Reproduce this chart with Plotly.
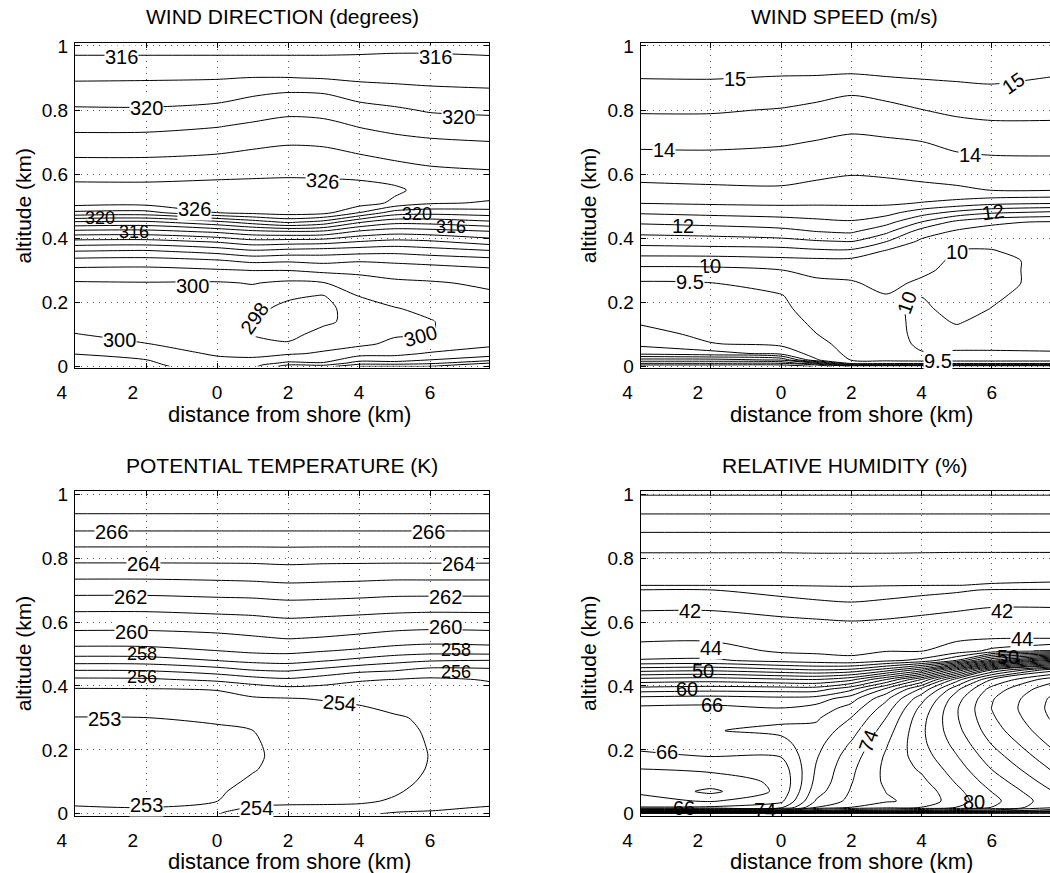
import numpy as np
import plotly.graph_objects as go

# ---------------- data ----------------
X_KM = [-4, -2, 0, 1, 2, 3, 4, 5, 6, 7.66]

# altitude rows, listed top -> bottom
ALT_DESC = [1.0, 0.95, 0.90, 0.85, 0.80, 0.75, 0.70, 0.65, 0.60, 0.55, 0.51, 0.48, 0.45, 0.42,
            0.39, 0.36, 0.33, 0.30, 0.26, 0.22, 0.18, 0.14, 0.10, 0.07, 0.04, 0.02, 0.01, 0.005, 0.0]
ALT_RH_DESC = [1.0, 0.95, 0.90, 0.85, 0.80, 0.76, 0.715, 0.70, 0.65, 0.60, 0.55, 0.51, 0.48, 0.45, 0.42,
               0.39, 0.36, 0.33, 0.30, 0.26, 0.22, 0.18, 0.14, 0.10, 0.07, 0.04, 0.02, 0.01, 0.005, 0.0]

# wind direction (degrees), one list per distance column, top -> bottom
WD_COLS = [
    [315.3, 316.5, 317.75, 319.0, 320.25, 321.5, 322.75, 324.05, 325.25, 326.8, 326.9, 323.6, 317.7, 313.3,
     309.4, 306.05, 303.3, 301.5, 299.8, 299.4, 299.2, 299.4, 300.05, 301.0, 301.95, 302.5, 302.8, 302.9, 303.0],
    [315.3, 316.5, 317.8, 319.05, 320.2, 321.5, 322.8, 324.05, 325.2, 326.8, 326.8, 323.4, 317.5, 313.2,
     309.3, 305.8, 303.2, 301.4, 299.9, 299.3, 299.0, 299.1, 299.5, 300.05, 300.8, 302.05, 302.3, 302.4, 302.5],
    [315.3, 316.5, 317.9, 319.05, 320.7, 321.9, 323.1, 324.3, 325.5, 326.9, 327.0, 326.05, 319.4, 314.3,
     310.3, 306.8, 303.8, 301.8, 299.8, 299.1, 298.6, 298.5, 298.8, 299.2, 299.8, 300.3, 300.6, 300.8, 301.0],
    [315.3, 316.5, 318.05, 319.8, 321.1, 322.3, 323.5, 324.6, 325.6, 327.0, 327.2, 326.6, 320.9, 315.3,
     311.3, 307.7, 304.5, 302.05, 300.1, 299.2, 298.5, 298.2, 297.95, 298.3, 299.4, 300.4, 300.9, 301.2, 301.5],
    [315.3, 316.5, 318.05, 320.2, 321.5, 322.7, 323.8, 324.8, 325.8, 326.7, 326.9, 327.0, 322.3, 315.7,
     311.1, 307.3, 304.3, 302.05, 299.6, 298.3, 297.5, 297.1, 297.4, 298.2, 299.8, 301.2, 302.5, 303.9, 305.0],
    [315.3, 316.5, 317.9, 320.05, 321.3, 322.6, 323.7, 324.7, 325.7, 326.8, 327.0, 326.7, 321.2, 315.5,
     310.9, 307.05, 304.6, 302.5, 299.9, 297.9, 297.3, 297.6, 298.7, 299.4, 300.2, 301.2, 302.2, 303.5, 305.0],
    [315.3, 316.6, 317.6, 319.3, 320.7, 321.9, 323.1, 324.3, 325.5, 326.8, 327.0, 324.05, 318.2, 313.6,
     310.05, 306.8, 304.2, 302.5, 301.1, 300.05, 299.2, 298.7, 298.8, 299.6, 301.2, 303.3, 305.05, 306.5, 308.0],
    [315.4, 316.7, 317.5, 318.9, 320.3, 321.4, 322.6, 323.8, 325.05, 326.4, 325.6, 321.1, 316.6, 312.8,
     309.5, 306.6, 304.4, 302.9, 301.6, 300.7, 299.9, 299.6, 299.8, 300.4, 301.5, 303.05, 305.05, 306.5, 308.05],
    [315.4, 316.7, 317.4, 318.6, 319.8, 321.05, 322.3, 323.4, 324.6, 325.2, 324.3, 320.7, 316.7, 313.05,
     309.8, 307.05, 304.7, 303.1, 301.8, 301.05, 300.4, 299.9, 299.9, 300.6, 302.2, 304.05, 305.5, 307.05, 308.05],
    [315.4, 316.4, 317.3, 318.4, 319.6, 320.8, 322.05, 323.2, 324.3, 324.9, 323.8, 321.1, 317.6, 313.8,
     311.05, 307.8, 305.2, 303.6, 302.3, 301.7, 301.3, 301.1, 301.3, 301.6, 302.9, 305.4, 308.05, 309.05, 310.05],
]

# wind speed (m/s)
WS_COLS = [
    [15.4, 15.23, 15.01, 14.78, 14.55, 14.33, 14.1, 13.88, 13.65, 13.36, 13.02, 12.56, 12.08, 11.64,
     11.2, 10.73, 10.28, 9.83, 9.45, 9.32, 9.19, 9.06, 8.84, 8.63, 8.12, 6.8, 6.05, 5.55, 5.05],
    [15.4, 15.23, 15.02, 14.77, 14.55, 14.33, 14.11, 13.89, 13.67, 13.41, 13.07, 12.64, 12.17, 11.71,
     11.25, 10.77, 10.27, 9.86, 9.49, 9.44, 9.35, 9.25, 9.11, 8.98, 8.3, 6.8, 6.05, 5.55, 5.05],
    [15.42, 15.22, 14.97, 14.72, 14.47, 14.24, 14.05, 13.86, 13.66, 13.44, 13.1, 12.7, 12.28, 11.83,
     11.33, 10.8, 10.36, 9.99, 9.7, 9.47, 9.39, 9.3, 9.2, 9.1, 8.65, 7.05, 6.05, 5.55, 5.05],
    [15.43, 15.22, 14.96, 14.63, 14.38, 14.17, 13.98, 13.79, 13.6, 13.34, 13.08, 12.73, 12.38, 11.99,
     11.45, 10.9, 10.38, 10.1, 9.93, 9.82, 9.72, 9.6, 9.49, 9.35, 9.2, 8.95, 7.05, 6.05, 5.55],
    [15.4, 15.2, 14.93, 14.52, 14.3, 14.1, 13.9, 13.71, 13.52, 13.27, 13.07, 12.8, 12.44, 12.06,
     11.52, 10.9, 10.37, 10.15, 9.96, 9.9, 9.85, 9.8, 9.75, 9.7, 9.62, 9.52, 9.3, 8.05, 6.55],
    [15.4, 15.21, 14.98, 14.6, 14.38, 14.17, 13.93, 13.74, 13.56, 13.3, 13.1, 12.67, 12.17, 11.6,
     11.01, 10.45, 10.3, 10.22, 10.12, 9.98, 9.9, 9.85, 9.82, 9.8, 9.72, 9.58, 9.3, 8.05, 6.55],
    [15.4, 15.23, 15.02, 14.75, 14.49, 14.24, 13.99, 13.81, 13.63, 13.36, 12.98, 12.24, 11.48, 10.75,
     10.4, 10.3, 10.2, 10.1, 9.92, 9.99, 10.08, 10.12, 10.12, 10.08, 9.97, 9.6, 9.3, 8.05, 6.55],
    [15.4, 15.2, 15.05, 14.83, 14.6, 14.36, 14.14, 13.91, 13.69, 13.42, 12.85, 11.85, 10.85, 10.42,
     10.24, 9.98, 9.9, 9.85, 9.8, 9.8, 9.85, 9.97, 10.1, 10.1, 9.95, 9.6, 9.3, 8.05, 6.55],
    [15.45, 15.3, 15.08, 14.87, 14.65, 14.42, 14.19, 13.96, 13.73, 13.51, 12.67, 11.57, 10.57, 10.35,
     10.15, 9.97, 9.8, 9.8, 9.8, 9.93, 10.01, 10.1, 10.15, 10.1, 9.95, 9.6, 9.3, 8.05, 6.55],
    [15.35, 15.17, 14.99, 14.81, 14.63, 14.43, 14.2, 13.97, 13.75, 13.52, 12.57, 11.4, 10.45, 10.35,
     10.3, 10.25, 10.2, 10.2, 10.2, 10.2, 10.2, 10.2, 10.2, 10.15, 9.95, 9.6, 9.3, 8.05, 6.55],
]

# potential temperature (K)
PT_COLS = [
    [267.9, 267.2, 266.3, 265.3, 264.3, 263.3, 262.35, 261.3, 260.45, 259.6, 258.67, 257.5, 256.05, 254.8,
     253.93, 253.6, 253.28, 252.97, 252.85, 252.75, 252.7, 252.7, 252.72, 252.8, 252.9, 253.03, 253.2, 253.3, 253.4],
    [267.9, 267.2, 266.3, 265.3, 264.3, 263.3, 262.35, 261.3, 260.45, 259.6, 258.7, 257.55, 256.1, 254.85,
     253.95, 253.6, 253.28, 252.99, 252.85, 252.75, 252.7, 252.7, 252.72, 252.78, 252.88, 252.98, 253.2, 253.3, 253.4],
    [267.9, 267.2, 266.3, 265.3, 264.3, 263.35, 262.45, 261.45, 260.55, 259.75, 258.99, 258.03, 256.6, 255.2,
     254.05, 253.7, 253.4, 253.1, 252.9, 252.8, 252.75, 252.75, 252.8, 252.88, 252.98, 253.5, 253.8, 253.9, 253.95],
    [267.9, 267.2, 266.3, 265.3, 264.3, 263.4, 262.5, 261.5, 260.65, 259.9, 259.2, 258.3, 257.02, 255.6,
     254.4, 253.9, 253.6, 253.3, 252.99, 252.9, 252.87, 252.95, 253.1, 253.3, 253.6, 254.1, 254.3, 254.4, 254.5],
    [267.9, 267.2, 266.3, 265.3, 264.35, 263.5, 262.6, 261.65, 260.8, 260.05, 259.25, 258.4, 257.15, 255.85,
     254.7, 253.95, 253.7, 253.5, 253.4, 253.3, 253.25, 253.25, 253.3, 253.4, 253.7, 254.2, 254.4, 254.5, 254.6],
    [267.9, 267.2, 266.3, 265.3, 264.3, 263.45, 262.55, 261.6, 260.7, 259.95, 259.05, 258.1, 256.75, 255.5,
     254.65, 254.05, 253.8, 253.6, 253.45, 253.35, 253.3, 253.3, 253.35, 253.45, 253.75, 254.2, 254.4, 254.5, 254.65],
    [267.9, 267.2, 266.3, 265.3, 264.3, 263.4, 262.5, 261.5, 260.6, 259.8, 258.85, 257.75, 256.3, 255.1,
     254.6, 254.2, 253.9, 253.7, 253.55, 253.45, 253.4, 253.4, 253.45, 253.55, 253.85, 254.2, 254.4, 254.5, 254.7],
    [267.9, 267.2, 266.3, 265.3, 264.3, 263.35, 262.4, 261.4, 260.5, 259.6, 258.6, 257.35, 256.1, 254.98,
     254.7, 254.4, 254.15, 253.9, 253.75, 253.7, 253.68, 253.7, 253.78, 253.9, 254.1, 254.5, 254.8, 254.99, 255.2],
    [267.9, 267.2, 266.3, 265.3, 264.3, 263.35, 262.4, 261.35, 260.45, 259.5, 258.45, 257.1, 255.7, 254.85,
     254.6, 254.4, 254.25, 254.15, 254.1, 254.05, 254.02, 254.05, 254.15, 254.3, 254.55, 254.85, 254.98, 255.1, 255.3],
    [267.9, 267.2, 266.3, 265.3, 264.3, 263.35, 262.4, 261.35, 260.5, 259.55, 258.55, 256.99, 255.8, 255.05,
     254.8, 254.65, 254.55, 254.5, 254.45, 254.4, 254.4, 254.4, 254.45, 254.55, 254.75, 255.05, 255.2, 255.3, 255.4],
]

# relative humidity (%), rows follow ALT_RH_DESC
RH_COLS = [
    [29.9, 31.6, 33.3, 35.1, 36.45, 37.15, 37.95, 40.1, 41.7, 42.7, 43.65, 44.8, 46.15, 51.2, 56.7,
     60.9, 64.8, 66.4, 67.0, 67.1, 66.6, 65.6, 63.99, 63.6, 63.7, 64.6, 66.1, 75, 86, 98],
    [29.9, 31.6, 33.3, 35.1, 36.45, 37.2, 37.95, 40.05, 41.7, 42.75, 43.7, 44.85, 46.3, 51.5, 57.05,
     61.2, 65.05, 66.5, 67.4, 67.9, 67.05, 66.05, 64.3, 63.2, 61.5, 63.8, 66.3, 75, 86, 98],
    [29.9, 31.6, 33.3, 35.1, 36.45, 37.2, 37.95, 39.2, 41.2, 42.4, 43.2, 43.7, 45.3, 50.5, 56.3,
     61.05, 64.6, 66.05, 67.6, 68.4, 67.4, 66.1, 64.8, 64.3, 64.5, 65.5, 67.5, 76, 87, 98],
    [29.9, 31.6, 33.3, 35.1, 36.4, 37.15, 37.9, 38.6, 40.9, 42.25, 43.1, 43.6, 44.9, 50.05, 56.05,
     61.05, 64.9, 66.8, 67.7, 68.6, 69.3, 69.8, 70.2, 70.6, 71.2, 72.2, 74.05, 80, 89, 99],
    [29.9, 31.6, 33.3, 35.1, 36.4, 37.1, 37.85, 38.5, 40.5, 42.1, 42.9, 43.5, 44.5, 50.5, 57.5,
     63.5, 67.2, 68.8, 70.05, 71.2, 72.2, 73.05, 73.6, 73.9, 74.2, 74.6, 76.05, 82.05, 90.05, 99],
    [29.9, 31.6, 33.3, 35.1, 36.4, 37.15, 37.9, 38.8, 40.9, 42.25, 43.15, 43.9, 45.5, 53.05, 62.05,
     68.5, 71.6, 73.05, 74.05, 75.05, 75.8, 76.3, 76.5, 76.4, 76.05, 75.8, 77.05, 83.05, 90.05, 99],
    [29.9, 31.6, 33.3, 35.1, 36.45, 37.2, 37.95, 39.3, 41.3, 42.5, 43.45, 43.9, 46.5, 57.05, 68.05,
     74.5, 77.3, 78.6, 79.3, 79.6, 79.5, 79.05, 78.3, 77.5, 76.8, 76.5, 78.05, 84.05, 91.05, 99],
    [29.9, 31.6, 33.3, 35.1, 36.5, 37.3, 37.98, 39.7, 41.6, 42.8, 43.7, 44.8, 50.05, 66.05, 77.05,
     81.5, 83.2, 83.8, 83.8, 83.4, 82.7, 81.9, 81.05, 80.2, 79.5, 79.2, 80.05, 86.05, 92.05, 99],
    [29.9, 31.6, 33.3, 35.1, 36.5, 37.3, 38.1, 40.2, 41.9, 43.05, 43.85, 46.5, 58.05, 76.05, 84.05,
     86.8, 87.8, 88.05, 87.7, 87.05, 86.1, 85.1, 84.05, 82.9, 82.05, 81.4, 82.05, 87.05, 93.05, 99],
    [29.9, 31.6, 33.3, 35.1, 36.5, 37.3, 38.2, 40.3, 41.9, 43.05, 43.9, 48.05, 66.05, 83.05, 89.05,
     91.3, 92.2, 92.4, 92.1, 91.3, 90.3, 89.2, 88.05, 86.8, 85.8, 85.05, 85.5, 89.05, 94.05, 99],
]

# contour levels (start, end, step)
WD_LEVELS = (296, 330, 2)
WS_LEVELS = (5.5, 15.5, 0.5)
PT_LEVELS = (253, 267, 1)
RH_LEVELS = (30, 98, 2)

TITLES = ["WIND DIRECTION (degrees)", "WIND SPEED (m/s)",
          "POTENTIAL TEMPERATURE (K)", "RELATIVE HUMIDITY (%)"]
X_TICKS = [-4, -2, 0, 2, 4, 6]
X_TICKTEXT = ["4", "2", "0", "2", "4", "6"]
Y_TICKS = [0, 0.2, 0.4, 0.6, 0.8, 1]
Y_TICKTEXT = ["0", "0.2", "0.4", "0.6", "0.8", "1"]
X_TITLE = "distance from shore (km)"
Y_TITLE = "altitude (km)"

# contour labels: (text, x, y, angle, masked, size)
WD_LABELS = [("316", -2.69, 0.966, 0, True, 20), ("316", 6.16, 0.966, 0, True, 20),
             ("320", -1.99, 0.807, 0, True, 20), ("320", 6.81, 0.779, 0, True, 20),
             ("326", 2.98, 0.578, 4, True, 20), ("326", -0.63, 0.49, 0, True, 20),
             ("320", -3.3, 0.463, 0, False, 18), ("316", -2.35, 0.42, 0, False, 18),
             ("320", 5.62, 0.475, 0, False, 18), ("316", 6.58, 0.436, 0, False, 18),
             ("300", -0.68, 0.25, 0, True, 20), ("298", 1.06, 0.151, -55, True, 20),
             ("300", -2.74, 0.083, 0, True, 20), ("300", 5.74, 0.094, -15, True, 20)]
WS_LABELS = [("15", -1.31, 0.898, 0, True, 20), ("15", 6.62, 0.885, -35, True, 20),
             ("14", -3.34, 0.675, 0, True, 20), ("14", 5.38, 0.661, 0, True, 20),
             ("12", -2.79, 0.4375, 0, False, 20), ("12", 6.05, 0.482, -8, False, 20),
             ("10", -2.03, 0.3125, 0, False, 20), ("9.5", -2.6, 0.262, 0, True, 20),
             ("10", 5.0, 0.357, 0, True, 20), ("10", 3.58, 0.198, -70, True, 20),
             ("9.5", 4.48, 0.016, 0, True, 20)]
PT_LABELS = [("266", -2.97, 0.881, 0, True, 20), ("266", 5.95, 0.881, 0, True, 20),
             ("264", -2.08, 0.782, 0, True, 20), ("264", 6.8, 0.782, 0, True, 20),
             ("262", -2.44, 0.678, 0, True, 20), ("262", 6.44, 0.678, 0, True, 20),
             ("260", -2.4, 0.569, 0, True, 20), ("260", 6.44, 0.584, 0, True, 20),
             ("258", -2.12, 0.5, 0, False, 18), ("258", 6.72, 0.513, 0, False, 18),
             ("256", -2.12, 0.429, 0, False, 18), ("256", 6.72, 0.444, 0, False, 18),
             ("254", 3.44, 0.348, 5, True, 20), ("253", -3.16, 0.296, 0, True, 20),
             ("253", -1.99, 0.026, 0, True, 20), ("254", 1.1, 0.018, 0, True, 20)]
RH_LABELS = [("42", -2.6, 0.635, 0, True, 20), ("42", 6.28, 0.635, 0, True, 20),
             ("44", -2.0, 0.519, 0, True, 20), ("44", 6.85, 0.548, 0, True, 20),
             ("50", -2.23, 0.448, 0, False, 20), ("50", 6.45, 0.492, 0, False, 20),
             ("60", -2.69, 0.39, 0, False, 20), ("66", -1.98, 0.339, 0, False, 20),
             ("66", -3.26, 0.193, 0, True, 20), ("66", -2.78, 0.018, 0, False, 20),
             ("74", 2.48, 0.229, -70, True, 20), ("80", 5.5, 0.036, 0, False, 20),
             ("74", -0.46, 0.012, 0, False, 20)]

# ---------------- figure ----------------
FONT = "Liberation Sans, Arial, Helvetica, sans-serif"
W, H = 1050, 873

# panel boxes in pixels: (left, right, top, bottom)
BOXES = [(75, 489, 42.7, 368.3), (640.7, 1050, 42.7, 368.3),
         (75, 489, 491, 815.7), (640.7, 1050, 491, 815.7)]

panels = [
    (WD_COLS, ALT_DESC, WD_LEVELS, WD_LABELS),
    (WS_COLS, ALT_DESC, WS_LEVELS, WS_LABELS),
    (PT_COLS, ALT_DESC, PT_LEVELS, PT_LABELS),
    (RH_COLS, ALT_RH_DESC, RH_LEVELS, RH_LABELS),
]

fig = go.Figure()
annotations = []
layout = {}
for i, (cols, alt_desc, lev, labels) in enumerate(panels):
    sfx = "" if i == 0 else str(i + 1)
    z = np.array(cols, dtype=float).T[::-1]
    alt = list(alt_desc)[::-1]
    fig.add_trace(go.Contour(
        x=X_KM, y=alt, z=z, xaxis="x" + sfx, yaxis="y" + sfx,
        contours=dict(coloring="lines", start=lev[0], end=lev[1], size=lev[2], showlabels=False),
        colorscale=[[0, "black"], [1, "black"]], showscale=False,
        line=dict(width=1, smoothing=0.8), hoverinfo="skip"))
    l, r, t, b = BOXES[i]
    left_col = (i % 2 == 0)
    tick_font = dict(family=FONT, size=19, color="black")
    grid_style = dict(showgrid=True, gridcolor="#555", griddash="1px,5px", gridwidth=1)
    layout["xaxis" + sfx] = dict(
        domain=[l / W, r / W], anchor="y" + sfx, range=[-4, 7.66],
        tickmode="array", tickvals=X_TICKS,
        ticktext=[(t_ + "\u00a0" * 5) if v < 0 else t_ for v, t_ in zip(X_TICKS, X_TICKTEXT)],
        showline=True, linecolor="black", linewidth=1, mirror="ticks",
        ticks="inside", ticklen=5, tickcolor="black", zeroline=False, automargin=False,
        tickfont=tick_font, ticklabelstandoff=7, fixedrange=True, **grid_style)
    layout["yaxis" + sfx] = dict(
        domain=[1 - b / H, 1 - t / H], anchor="x" + sfx, range=[-0.006, 1.01],
        tickmode="array", tickvals=Y_TICKS, ticktext=Y_TICKTEXT,
        showline=True, linecolor="black", linewidth=1,
        mirror="ticks" if left_col else False,
        ticks="inside", ticklen=5, tickcolor="black", zeroline=False, automargin=False,
        tickfont=tick_font, ticklabelstandoff=2, fixedrange=True, **grid_style)
    cx = (l + (489 if left_col else 1049)) / 2
    # panel title
    annotations.append(dict(text=TITLES[i], xref="paper", yref="paper",
                            x=cx / W, y=1 - (t - 26) / H, xanchor="center", yanchor="middle",
                            showarrow=False, font=dict(family=FONT, size=21, color="black")))
    # x-axis title
    annotations.append(dict(text=X_TITLE, xref="paper", yref="paper",
                            x=(cx + 7) / W, y=1 - (b + 46) / H, xanchor="center", yanchor="middle",
                            showarrow=False, font=dict(family=FONT, size=22, color="black")))
    # y-axis title
    annotations.append(dict(text=Y_TITLE, xref="paper", yref="paper", textangle=-90,
                            x=(l - 52) / W, y=1 - ((t + b) / 2) / H, xanchor="center", yanchor="middle",
                            showarrow=False, font=dict(family=FONT, size=21, color="black")))
    # contour labels
    for txt, lx, ly, ang, masked, fs in labels:
        annotations.append(dict(text=txt, xref="x" + sfx, yref="y" + sfx, x=lx, y=ly,
                                showarrow=False, textangle=ang, xanchor="center", yanchor="middle",
                                bgcolor="white" if masked else "rgba(0,0,0,0)", borderpad=0,
                                font=dict(family=FONT, size=fs, color="black")))

fig.update_layout(width=W, height=H, margin=dict(l=0, r=0, t=0, b=0, autoexpand=False),
                  paper_bgcolor="white", plot_bgcolor="white", showlegend=False,
                  annotations=annotations, **layout)
fig.write_html("out.html")
